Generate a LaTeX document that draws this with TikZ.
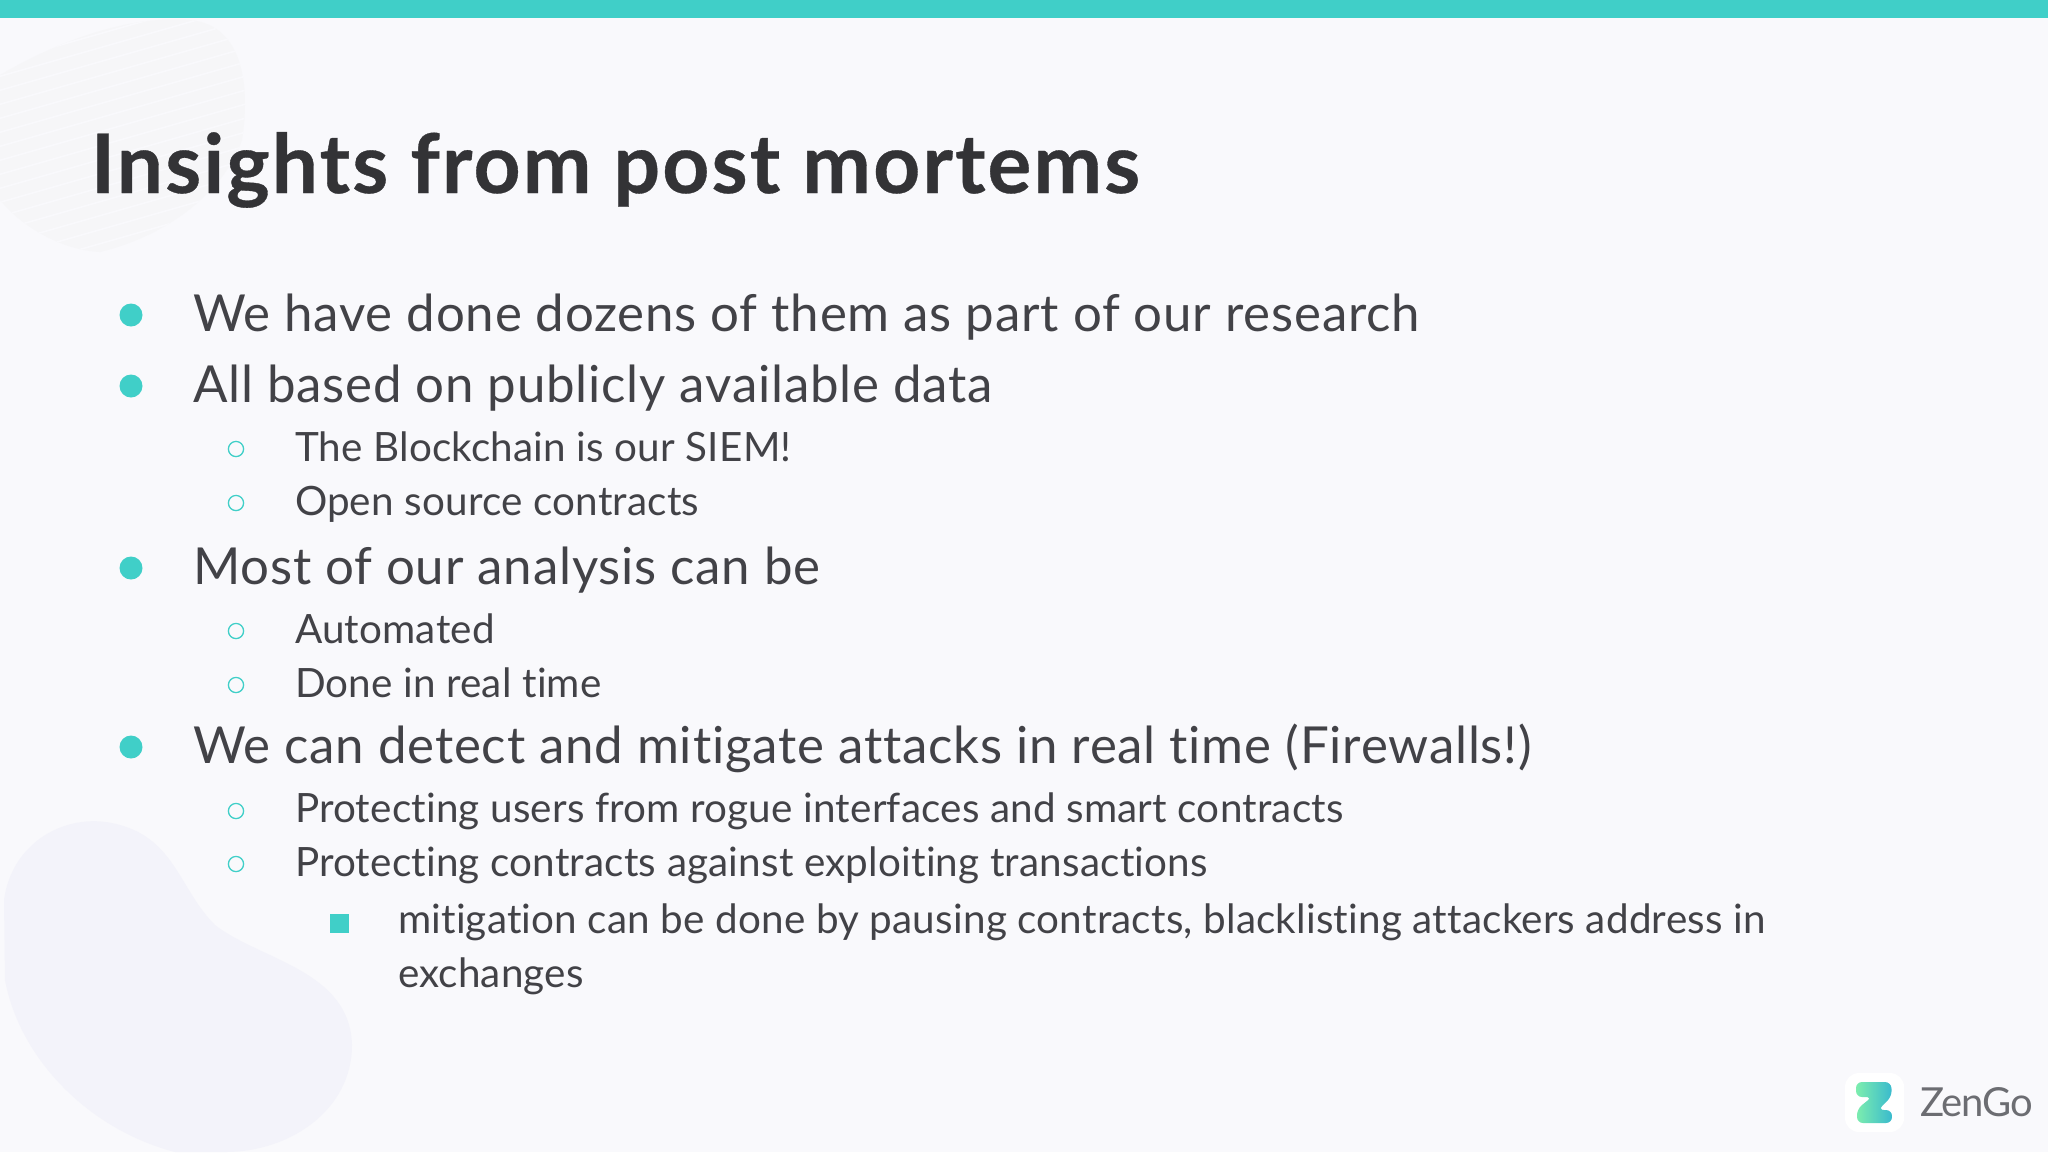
\documentclass[tikz,border=0pt]{standalone}
\usepackage{fontspec}
\setmainfont{Lato}
\newfontfamily\titlefam[LetterSpace=2.6,RawFeature={-liga},FakeBold=0.4]{Lato Bold}
\newfontfamily\onefam[LetterSpace=1.6,RawFeature={-liga}]{Lato}
\newfontfamily\twofam[LetterSpace=0.5,RawFeature={-liga}]{Lato}
\newfontfamily\logofam[LetterSpace=-3]{Lato}
\usetikzlibrary{shadings}
\definecolor{bgc}{HTML}{F9F9FC}
\definecolor{teal}{HTML}{40CFC8}
\definecolor{ink}{HTML}{424247}
\definecolor{titleink}{HTML}{333336}
\definecolor{blobc}{HTML}{F3F3FA}
\definecolor{hatchc}{HTML}{F6F6F8}
\definecolor{logoc}{HTML}{6C6D72}
\tikzset{
  x=0.5pt,y=-0.5pt,
  txt/.style={anchor=base west,inner sep=0pt,outer sep=0pt,text=ink},
  lone/.style={txt,font=\onefam\fontsize{25.5}{28}\selectfont},
  ltwo/.style={txt,font=\twofam\fontsize{20.2}{24}\selectfont},
  dotone/.style={circle,fill=teal,inner sep=0pt,minimum size=11.5pt},
  dottwo/.style={circle,draw=teal,line width=0.65pt,fill=none,inner sep=0pt,minimum size=7.6pt},
  sqthree/.style={rectangle,fill=teal,inner sep=0pt,minimum size=9.5pt},
}
\begin{document}
\begin{tikzpicture}
\fill[bgc] (0,0) rectangle (2048,1152);
\useasboundingbox (0,0) rectangle (2048,1152);
% decorative blobs
\begin{scope}
\clip (0,75) .. controls (60,40) and (130,15) .. (190,20) .. controls (245,25) and (250,90) .. (242,140) .. controls (225,190) and (170,235) .. (100,252) .. controls (60,250) and (20,225) .. (0,200) -- cycle;
\fill[hatchc] (0,0) rectangle (300,260);
\foreach \k in {0,...,24}{
  \draw[bgc,line width=0.8pt] (-20,40+\k*14) -- (260,-40+\k*14);
}
\end{scope}
\fill[blobc] (4,900) .. controls (12,840) and (70,810) .. (120,825) .. controls (175,840) and (180,890) .. (215,925) .. controls (260,960) and (350,970) .. (352,1045) .. controls (352,1110) and (290,1152) .. (225,1152) -- (175,1152) .. controls (90,1130) and (20,1060) .. (5,980) -- cycle;
% top bar
\fill[teal] (0,0) rectangle (2048,18);
% title
\node[txt,text=titleink,font=\titlefam\fontsize{41}{44}\selectfont] (title) at (91,193) {Insights from post mortems};
% level one
\node[dotone] (b1) at (131,315) {};
\node[lone] (t1) at (193,331) {We have done dozens of them as part of our research};
\node[dotone] (b2) at (131,386) {};
\node[lone] (t2) at (193,402) {All based on publicly available data};
\node[dottwo] (b21) at (236,449) {};
\node[ltwo] (t21) at (295,461) {The Blockchain is our SIEM!};
\node[dottwo] (b22) at (236,503) {};
\node[ltwo] (t22) at (295,515) {Open source contracts};
\node[dotone] (b3) at (131,568) {};
\node[lone] (t3) at (193,584) {Most of our analysis can be};
\node[dottwo] (b31) at (236,631) {};
\node[ltwo] (t31) at (295,643) {Automated};
\node[dottwo] (b32) at (236,685) {};
\node[ltwo] (t32) at (295,697) {Done in real time};
\node[dotone] (b4) at (131,747) {};
\node[lone] (t4) at (193,763) {We can detect and mitigate attacks in real time (Firewalls!)};
\node[dottwo] (b41) at (236,811) {};
\node[ltwo] (t41) at (295,822) {Protecting users from rogue interfaces and smart contracts};
\node[dottwo] (b42) at (236,864) {};
\node[ltwo] (t42) at (295,876) {Protecting contracts against exploiting transactions};
\node[sqthree] (b421) at (339,923) {};
\node[ltwo] (t421) at (398,933) {mitigation can be done by pausing contracts, blacklisting attackers address in};
\node[ltwo] (t422) at (398,987) {exchanges};
% logo
\fill[white,rounded corners=7pt] (1845,1073) rectangle (1904,1132);
\shade[left color=teal!60!green!60!white,right color=teal!90!blue,rounded corners=3pt]
  (1856,1082) -- (1891,1082) -- (1892,1096) -- (1878,1110) -- (1892,1110) -- (1892,1123) -- (1857,1123) -- (1857,1109) -- (1872,1097) -- (1856,1097) -- cycle;
\node[txt,text=logoc,font=\logofam\fontsize{20}{24}\selectfont] (logo) at (1920,1116) {ZenGo};
\end{tikzpicture}
\end{document}
